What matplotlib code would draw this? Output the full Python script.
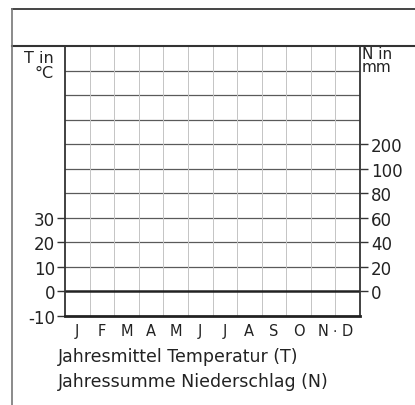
import numpy as np
import matplotlib
matplotlib.use("Agg")
import matplotlib.pyplot as plt
from matplotlib.lines import Line2D

months = ["J", "F", "M", "A", "M", "J", "J", "A", "S", "O", "N", "D"]
t_ticks = [-10, 0, 10, 20, 30]
t_grid = [10, 20, 30, 40, 50, 60, 70, 80, 90]
n_ticks = [0, 20, 40, 60, 80, 100, 200]
t_range = (-10, 100)
caption = ["Jahresmittel Temperatur (T)", "Jahressumme Niederschlag (N)"]

W, H = 415, 406
fig = plt.figure(figsize=(W / 100, H / 100), dpi=100)
fig.patch.set_facecolor("white")
plt.rcParams["font.family"] = ["DejaVu Sans"]

def fx(px):
    return px / W

def fy(py):
    return 1 - py / H

left, right, top, bottom = 65, 360, 47, 317
ax = fig.add_axes([fx(left), fy(bottom), fx(right - left), (bottom - top) / H])
ax.set_xlim(0, 12)
ax.set_ylim(*t_range)

# month ticks (centred) and boundaries (minor grid)
ax.set_xticks(np.arange(12) + 0.5)
ax.set_xticklabels(months, fontsize=10.5, color="#222")
ax.set_xticks(np.arange(1, 12), minor=True)
ax.tick_params(axis="x", which="both", length=0, pad=5)
ax.grid(axis="x", which="minor", color="#c4c4c4", lw=0.7)

# temperature axis
ax.set_yticks(t_ticks)
ax.set_yticklabels([str(v) for v in t_ticks], fontsize=12, color="#222")
ax.tick_params(axis="y", which="major", direction="out", length=6, width=1,
               color="#333", pad=1)
for v in t_grid:
    ax.axhline(v, color="#5a5a5a", lw=0.9, zorder=1)
ax.axhline(0, color="#222", lw=1.8, zorder=2)

for s in ["left", "right"]:
    ax.spines[s].set_color("#333")
    ax.spines[s].set_linewidth(1.3)
ax.spines["bottom"].set_color("#222")
ax.spines["bottom"].set_linewidth(2.0)
ax.spines["top"].set_visible(False)

# precipitation axis: 0..100 mm -> 0..50 degC, 100..200 -> 50..60
def t_to_n(t):
    t = np.asarray(t, dtype=float)
    return np.where(t <= 50, 2 * t, 100 + (t - 50) * 10)

def n_to_t(n):
    n = np.asarray(n, dtype=float)
    return np.where(n <= 100, n / 2, 50 + (n - 100) / 10)

sec = ax.secondary_yaxis("right", functions=(t_to_n, n_to_t))
sec.set_yticks(n_ticks)
sec.set_yticklabels([str(v) for v in n_ticks], fontsize=12, color="#222")
sec.tick_params(direction="out", length=6, width=1, color="#333", pad=2)
sec.spines["right"].set_visible(False)

# axis unit labels
fig.text(fx(54), fy(66), "T in\n°C", ha="right", va="center", fontsize=11.5,
         color="#222", linespacing=0.95)
fig.text(fx(362), fy(61), "N in\nmm", ha="left", va="center", fontsize=11,
         color="#222", linespacing=0.78)

# dot between N and D
fig.text(fx(335), fy(328), ".", ha="center", va="center", fontsize=10,
         color="#222")

# caption
fig.text(fx(58), fy(357), caption[0], ha="left", va="center", fontsize=12.5,
         color="#222")
fig.text(fx(58), fy(382), caption[1], ha="left", va="center", fontsize=12.5,
         color="#222")

# outer frame lines
frame_col = "#444"
fig.add_artist(Line2D([fx(12), 1.0], [fy(10), fy(10)], color=frame_col, lw=1.4))
fig.add_artist(Line2D([fx(12), 1.0], [fy(47), fy(47)], color="#333", lw=1.5))
fig.add_artist(Line2D([fx(12), fx(12)], [fy(10), 0.0], color="#777", lw=1.2))

fig.savefig("out.png", dpi=100, facecolor="white")
